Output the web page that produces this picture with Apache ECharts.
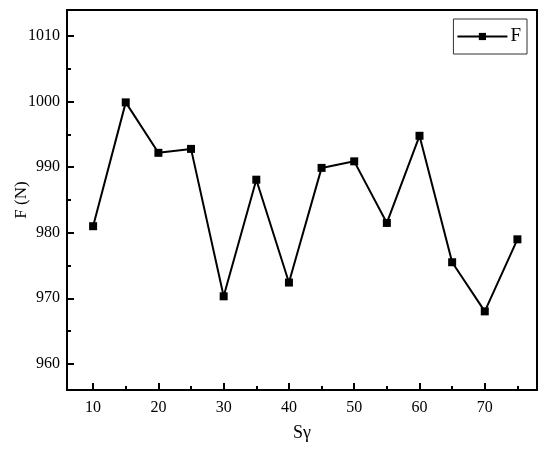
<!DOCTYPE html>
<html>
<head>
<meta charset="utf-8">
<script src="https://cdn.jsdelivr.net/npm/echarts@6/dist/echarts.min.js"></script>
<style>
  html, body { margin: 0; padding: 0; background: #fff; }
  #chart { width: 550px; height: 449px; }
</style>
</head>
<body>
<div id="chart"></div>
<script>
// data
const sGamma = [10, 15, 20, 25, 30, 35, 40, 45, 50, 55, 60, 65, 70, 75]
const force = [981.0, 999.9, 992.2, 992.8, 970.3, 988.1, 972.4, 989.9, 990.9, 981.5, 994.8, 975.5, 968.0, 979.0]
const xMajor = [10, 20, 30, 40, 50, 60, 70]
const xMinor = [15, 25, 35, 45, 55, 65, 75]
const yMajor = [960, 970, 980, 990, 1000, 1010]
const yMinor = [965, 975, 985, 995, 1005]

const font = 'Liberation Serif'
const chart = echarts.init(document.getElementById('chart'))

const xBase = { type: 'value', min: 6, max: 78, position: 'bottom', gridIndex: 0 }
const yBase = { type: 'value', min: 956, max: 1014, position: 'left', gridIndex: 0 }

const option = {
  animation: false,
  textStyle: { fontFamily: font },
  grid: {
    left: 67, right: 13, top: 10, bottom: 59,
    containLabel: false,
    outerBoundsMode: 'none',
    show: true, borderColor: '#000', borderWidth: 2, backgroundColor: 'transparent'
  },
  legend: {
    data: ['F'],
    right: 23,
    top: 19,
    orient: 'horizontal',
    borderColor: '#333',
    borderWidth: 1,
    borderRadius: 0,
    padding: [8, 6, 8, 3],
    itemWidth: 50,
    itemHeight: 9,
    itemGap: 4,
    textStyle: { fontFamily: font, fontSize: 19, color: '#000', padding: [0, 0, 0, -2] }
  },
  xAxis: [
    Object.assign({}, xBase, {
      name: 'Sγ',
      nameLocation: 'middle',
      nameGap: 34,
      nameMoveOverlap: false,
      nameTextStyle: { fontFamily: font, fontSize: 18, color: '#000' },
      axisLine: { show: true, lineStyle: { color: '#000', width: 2 } },
      axisTick: { show: true, inside: true, length: 7, lineStyle: { color: '#000', width: 2 }, customValues: xMajor },
      axisLabel: { show: true, margin: 10, fontSize: 16, color: '#000', fontFamily: font, customValues: xMajor },
      splitLine: { show: false }
    }),
    Object.assign({}, xBase, {
      axisLine: { show: false },
      axisTick: { show: true, inside: true, length: 4, lineStyle: { color: '#000', width: 2 }, customValues: xMinor },
      axisLabel: { show: false },
      splitLine: { show: false }
    })
  ],
  yAxis: [
    Object.assign({}, yBase, {
      name: 'F (N)',
      nameLocation: 'middle',
      nameGap: 37,
      nameRotate: 90,
      nameMoveOverlap: false,
      nameTextStyle: { fontFamily: font, fontSize: 17, color: '#000' },
      axisLine: { show: true, lineStyle: { color: '#000', width: 2 } },
      axisTick: { show: true, inside: true, length: 7, lineStyle: { color: '#000', width: 2 }, customValues: yMajor },
      axisLabel: { show: true, margin: 7, fontSize: 16, color: '#000', fontFamily: font, customValues: yMajor,
        formatter: v => String(v) },
      splitLine: { show: false }
    }),
    Object.assign({}, yBase, {
      axisLine: { show: false },
      axisTick: { show: true, inside: true, length: 4, lineStyle: { color: '#000', width: 2 }, customValues: yMinor },
      axisLabel: { show: false },
      splitLine: { show: false }
    })
  ],
  series: [{
    name: 'F',
    type: 'line',
    xAxisIndex: 0,
    yAxisIndex: 0,
    data: sGamma.map((x, i) => [x, force[i]]),
    symbol: 'rect',
    symbolSize: 8,
    showAllSymbol: true,
    itemStyle: { color: '#000' },
    lineStyle: { color: '#000', width: 2 }
  }]
}

chart.setOption(option)
</script>
</body>
</html>
